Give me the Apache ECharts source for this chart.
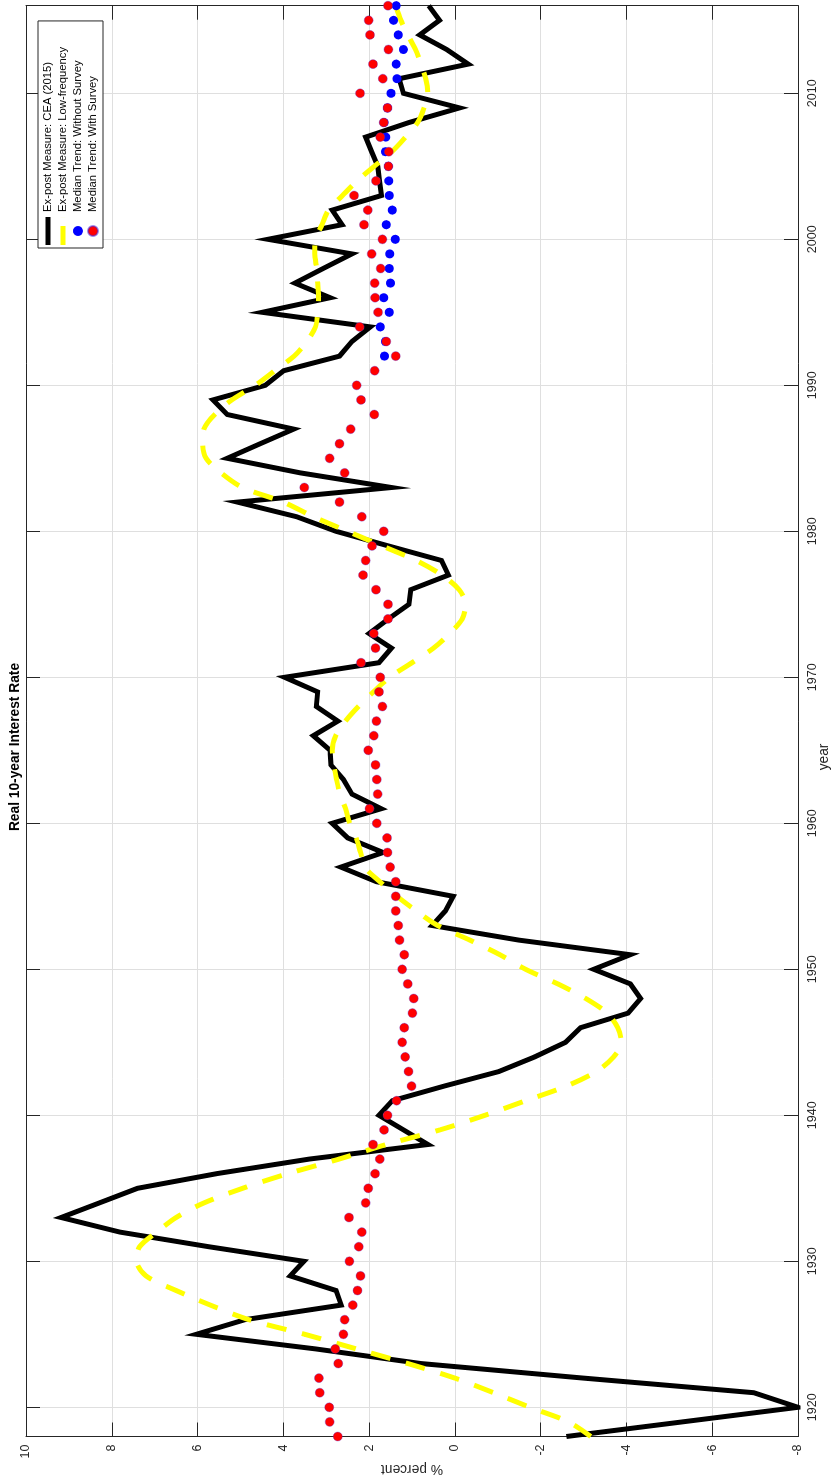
<!DOCTYPE html>
<html>
<head>
<meta charset="utf-8">
<script src="https://cdn.jsdelivr.net/npm/echarts@6/dist/echarts.min.js"></script>
<style>
  html, body { margin: 0; padding: 0; background: #ffffff; overflow: hidden; }
  #wrap { position: absolute; left: 0; top: 0; width: 836px; height: 1479px; overflow: hidden; background: #fff; }
  #chart { position: absolute; left: 0; top: 0; width: 1479px; height: 836px;
           transform-origin: 0 0; transform: translate(0px, 1479px) rotate(-90deg); }
</style>
</head>
<body>
<div id="wrap"><div id="chart"></div></div>
<script>
// ---------- data ----------
const years = [1918,1919,1920,1921,1922,1923,1924,1925,1926,1927,1928,1929,
  1930,1931,1932,1933,1934,1935,1936,1937,1938,1939,1940,1941,1942,1943,1944,1945,1946,1947,1948,1949,
  1950,1951,1952,1953,1954,1955,1956,1957,1958,1959,1960,1961,1962,1963,1964,1965,1966,1967,1968,1969,
  1970,1971,1972,1973,1974,1975,1976,1977,1978,1979,1980,1981,1982,1983,1984,1985,1986,1987,1988,1989,
  1990,1991,1992,1993,1994,1995,1996,1997,1998,1999,2000,2001,2002,2003,2004,2005,2006,2007,2008,2009,
  2010,2011,2012,2013,2014,2015,2016];

const ceaExPost = [-2.60,-5.30,-8.00,-6.97,-3.00,0.80,3.25,6.03,4.90,2.65,2.77,3.84,
  3.52,5.74,7.81,9.18,8.29,7.40,5.56,3.40,0.63,1.20,1.77,1.46,0.25,-1.03,-1.86,-2.58,-2.93,-4.04,-4.33,-4.09,
  -3.24,-4.09,-1.49,0.53,0.22,0.04,1.83,2.66,1.67,2.50,2.86,1.72,2.40,2.60,2.89,2.91,3.30,2.73,3.23,3.20,
  3.97,1.77,1.48,2.00,1.55,1.07,1.03,0.15,0.31,1.55,2.77,3.69,5.07,1.48,3.60,5.31,4.54,3.76,5.31,5.64,
  4.42,3.99,2.69,2.40,1.97,4.49,2.91,3.73,3.07,2.40,4.36,2.63,2.86,1.71,1.76,1.80,1.94,2.08,1.07,-0.11,
  1.20,1.30,-0.31,0.19,0.82,0.36,0.61];

const lowFrequency = [-3.17,-2.65,-1.75,-0.90,0.00,1.10,2.30,3.50,4.80,5.70,6.50,7.20,
  7.42,7.35,6.95,6.50,5.85,4.95,3.90,2.70,1.60,0.35,-0.70,-1.65,-2.60,-3.30,-3.70,-3.88,-3.80,-3.55,-3.05,-2.40,
  -1.65,-1.05,-0.35,0.40,0.90,1.35,1.75,2.10,2.20,2.30,2.45,2.55,2.68,2.76,2.82,2.86,2.78,2.55,2.25,1.90,
  1.52,1.00,0.50,0.12,-0.17,-0.25,-0.10,0.30,0.90,1.70,2.50,3.30,4.00,4.95,5.45,5.80,5.88,5.85,5.60,5.20,
  4.65,4.20,3.75,3.45,3.25,3.20,3.18,3.20,3.22,3.27,3.25,3.10,2.95,2.62,2.28,1.88,1.47,1.15,0.87,0.72,
  0.63,0.68,0.79,0.92,1.10,1.26,1.38];

const surveyYears = [1992,1993,1994,1995,1996,1997,1998,1999,2000,2001,2002,2003,2004,
  2005,2006,2007,2008,2009,2010,2011,2012,2013,2014,2015,2016];
const trendWithoutSurvey = [1.64,1.62,1.74,1.53,1.66,1.50,1.53,1.52,1.39,1.60,1.46,1.53,1.54,
  1.55,1.62,1.61,1.65,1.57,1.49,1.35,1.37,1.20,1.32,1.43,1.37];

const trendWithSurvey = [2.73,2.92,2.93,3.15,3.17,2.72,2.79,2.60,2.57,2.38,2.27,2.20,
  2.46,2.24,2.17,2.47,2.08,2.02,1.86,1.75,1.91,1.65,1.57,1.36,1.01,1.08,1.16,1.23,1.18,0.99,0.96,1.10,
  1.23,1.18,1.29,1.32,1.38,1.38,1.38,1.51,1.57,1.58,1.82,1.99,1.80,1.82,1.85,2.02,1.89,1.83,1.69,1.77,
  1.74,2.19,1.85,1.89,1.56,1.56,1.84,2.14,2.08,1.93,1.66,2.17,2.69,3.51,2.57,2.92,2.69,2.43,1.88,2.19,
  2.29,1.87,1.38,1.60,2.22,1.79,1.86,1.87,1.73,1.94,1.69,2.12,2.03,2.35,1.84,1.55,1.54,1.74,1.66,1.57,
  2.21,1.68,1.91,1.55,1.98,2.01,1.56];

const yearTicks = [1920,1930,1940,1950,1960,1970,1980,1990,2000,2010];
const seriesNames = ['Ex-post Measure: CEA (2015)','Ex-post Measure: Low-frequency',
  'Median Trend: Without Survey','Median Trend: With Survey'];
const titleText = 'Real 10-year Interest Rate';
const xName = 'year';
const yName = '% percent';

// ---------- chart ----------
const FONT = '"Liberation Sans", Arial, Helvetica, sans-serif';
const AX = '#262626';
const GRIDC = '#dfdfdf';

const pair = (xs, ys) => xs.map((x, i) => [x, ys[i]]);

const chart = echarts.init(document.getElementById('chart'), null, { renderer: 'canvas' });

const baseX = {
  type: 'value', min: 1918, max: 2016,
  axisLine: { show: true, onZero: false, lineStyle: { color: AX, width: 1 } },
  axisTick: { show: true, inside: true, length: 14, customValues: yearTicks, lineStyle: { color: AX, width: 1 } },
};
const baseY = {
  type: 'value', min: -8, max: 10, interval: 2,
  axisLine: { show: true, onZero: false, lineStyle: { color: AX, width: 1 } },
  axisTick: { show: true, inside: true, length: 14, lineStyle: { color: AX, width: 1 } },
};

// legend sample shapes: a solid bar, and a single dash followed by a gap
const solidIcon = 'path://M0,0 L28,0 L28,5 L0,5 Z';
const dashIcon = 'path://M0,0 L19,0 L19,5 L0,5 Z M27.95,0 L28,0 L28,5 L27.95,5 Z';

chart.setOption({
  animation: false,
  backgroundColor: '#ffffff',
  textStyle: { fontFamily: FONT },
  grid: { left: 42.5, right: 5.7, top: 26, bottom: 38, containLabel: false, outerBoundsMode: 'none' },
  xAxis: [
    Object.assign({}, baseX, {
      position: 'bottom',
      axisLabel: { show: true, customValues: yearTicks, color: AX, fontSize: 12.5, fontFamily: FONT, margin: 8,
                   formatter: v => String(v) },
      splitLine: { show: true, lineStyle: { color: GRIDC, width: 1 } }
    }),
    Object.assign({}, baseX, {
      position: 'top',
      axisLabel: { show: false },
      splitLine: { show: false }
    })
  ],
  yAxis: [
    Object.assign({}, baseY, {
      position: 'left',
      axisLabel: { show: true, color: AX, fontSize: 12.5, fontFamily: FONT, margin: 8 },
      splitLine: { show: true, lineStyle: { color: GRIDC, width: 1 } }
    }),
    Object.assign({}, baseY, {
      position: 'right',
      axisLabel: { show: false },
      splitLine: { show: false }
    })
  ],
  legend: {
    show: true,
    orient: 'vertical',
    left: 1231, top: 38,
    itemWidth: 28, itemHeight: 10, itemGap: 3,
    padding: [4, 26, 4, 3],
    backgroundColor: '#ffffff',
    borderColor: AX, borderWidth: 1,
    textStyle: { color: '#000000', fontSize: 11.25, fontFamily: FONT, lineHeight: 12 },
    data: [
      { name: seriesNames[0], icon: solidIcon },
      { name: seriesNames[1], icon: dashIcon },
      { name: seriesNames[2], icon: 'circle' },
      { name: seriesNames[3], icon: 'circle' }
    ]
  },
  graphic: [
    { type: 'text', x: 732, y: 15,
      style: { text: titleText, font: 'bold 13.75px ' + FONT, fill: '#000000', align: 'center', verticalAlign: 'middle' } },
    { type: 'text', x: 722, y: 824,
      style: { text: xName, font: '13.75px ' + FONT, fill: AX, align: 'center', verticalAlign: 'middle' } },
    { type: 'text', x: 10, y: 412, rotation: Math.PI / 2,
      style: { text: yName, font: '13.75px ' + FONT, fill: AX, align: 'center', verticalAlign: 'middle' } }
  ],
  series: [
    { name: seriesNames[0], type: 'line', data: pair(years, ceaExPost),
      showSymbol: false, symbol: 'none', clip: true,
      lineStyle: { color: '#000000', width: 5, join: 'miter', cap: 'butt' },
      itemStyle: { color: '#000000' }, z: 2 },
    { name: seriesNames[1], type: 'line', data: pair(years, lowFrequency),
      showSymbol: false, symbol: 'none', smooth: 0.3, clip: true,
      lineStyle: { color: '#ffff00', width: 5, type: [20, 16], cap: 'butt' },
      itemStyle: { color: '#ffff00' }, z: 3 },
    { name: seriesNames[2], type: 'scatter', data: pair(surveyYears, trendWithoutSurvey),
      symbol: 'circle', symbolSize: 9,
      itemStyle: { color: '#0000ff', opacity: 1 }, z: 4 },
    { name: seriesNames[3], type: 'scatter', data: pair(years, trendWithSurvey),
      symbol: 'circle', symbolSize: 9,
      itemStyle: { color: '#ff0000', opacity: 1, borderColor: 'rgba(70,40,220,0.55)', borderWidth: 0.6 }, z: 5 }
  ]
});
</script>
</body>
</html>
